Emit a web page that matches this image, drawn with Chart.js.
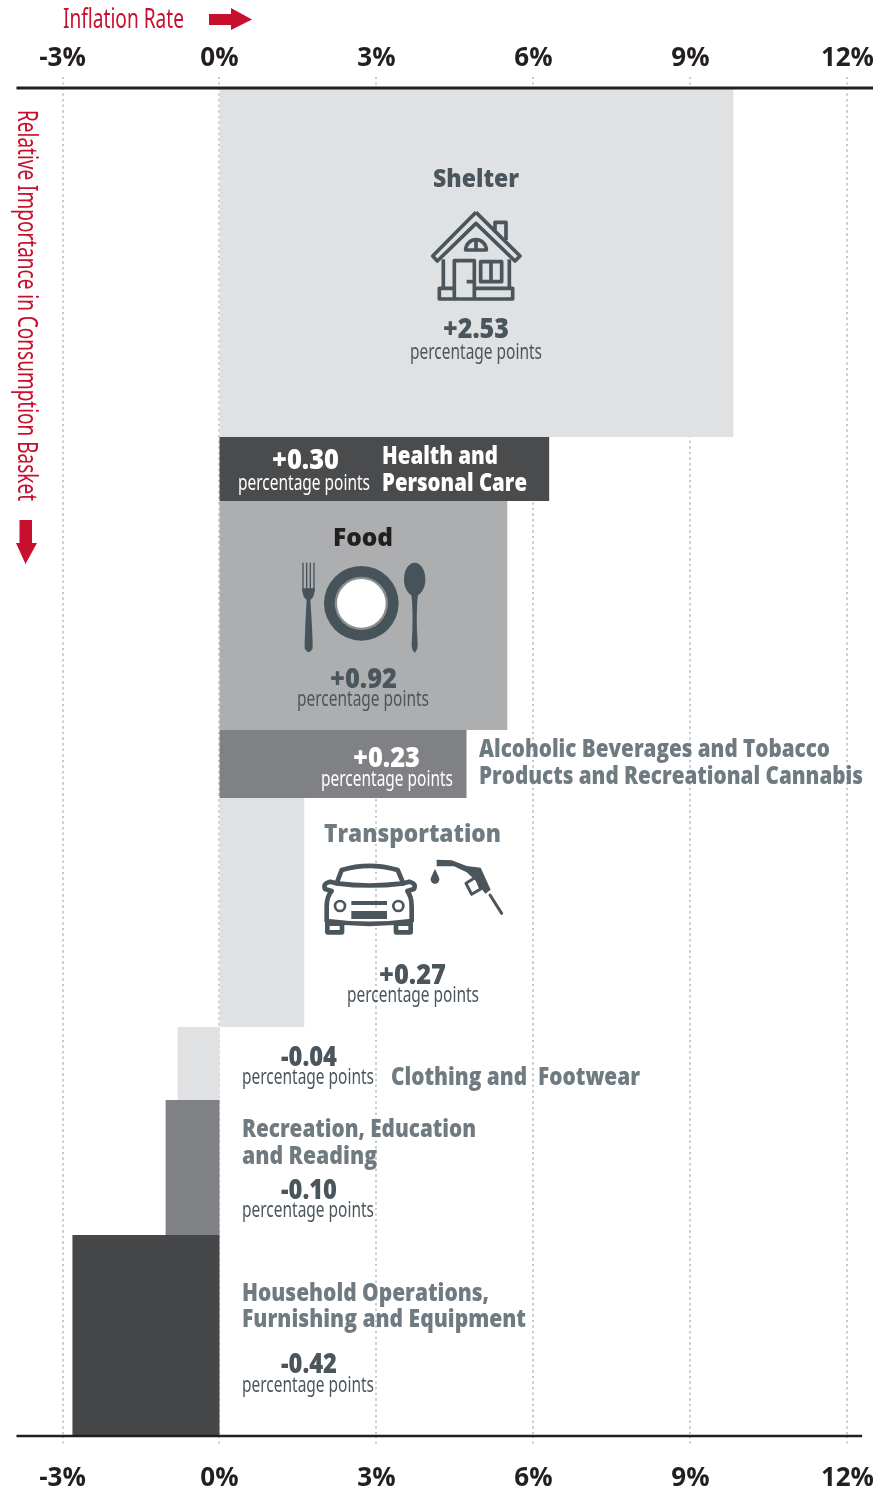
<!DOCTYPE html>
<html>
<head>
<meta charset="utf-8">
<title>Inflation contributions</title>
<script src="https://cdn.jsdelivr.net/npm/chart.js@4"></script>
<style>
  html, body { margin: 0; padding: 0; background: #fff; }
  canvas { display: block; }
</style>
</head>
<body>
<canvas id="basketChart" width="873" height="1487"></canvas>
<script>
// values
var categories = ["Shelter", "Health and Personal Care", "Food", "Alcoholic Beverages and Tobacco Products and Recreational Cannabis", "Transportation", "Clothing and Footwear", "Recreation, Education and Reading", "Household Operations, Furnishing and Equipment"];
var inflationRates = [9.82, 6.3, 5.5, 4.72, 1.62, -0.8, -1.03, -2.81];
var basketWeights = [25.89, 4.75, 16.99, 5.04, 16.99, 5.42, 10.01, 15.1];
var contributions = ["+2.53", "+0.30", "+0.92", "+0.23", "+0.27", "-0.04", "-0.10", "-0.42"];
var barColors = ["#e0e1e3", "#4a4b4d", "#adaeb0", "#808184", "#e0e1e3", "#e0e1e3", "#808184", "#464749"];
var tickValues = [-3, 0, 3, 6, 9, 12];

var RED = "#c8102e";
var SLATE = "#4a555c";
var MUTED = "#6f7b81";
var BOLD = "800 24px 'Open Sans'";
var VALUE = "800 28px 'Open Sans'";
var SMALL = "22px 'Noto Sans'";

// text, left, right, middle y, font, colour
var labels = [
    ["Inflation Rate", 63, 184, 20, "28px 'Noto Sans'", RED],
    ["Shelter", 433, 519, 180, BOLD, SLATE],
    [contributions[0], 443, 509, 330, VALUE, SLATE],
    ["percentage points", 410, 542, 353, SMALL, SLATE],
    [contributions[1], 272, 339, 461, VALUE, "#fff"],
    ["percentage points", 238, 370, 484, SMALL, "#fff"],
    ["Health and", 382, 498, 457, BOLD, "#fff"],
    ["Personal Care", 382, 527, 484, BOLD, "#fff"],
    ["Food", 333, 393, 539, BOLD, "#231f20"],
    [contributions[2], 330, 397, 680, VALUE, SLATE],
    ["percentage points", 297, 429, 700, SMALL, SLATE],
    [contributions[3], 353, 420, 759, VALUE, "#fff"],
    ["percentage points", 321, 453, 780, SMALL, "#fff"],
    ["Alcoholic Beverages and Tobacco", 479, 830, 750, BOLD, MUTED],
    ["Products and Recreational Cannabis", 479, 863, 777, BOLD, MUTED],
    ["Transportation", 324, 501, 835, BOLD, MUTED],
    [contributions[4], 379, 446, 976, VALUE, SLATE],
    ["percentage points", 347, 479, 996, SMALL, SLATE],
    [contributions[5], 281, 337, 1058, VALUE, SLATE],
    ["percentage points", 242, 374, 1078, SMALL, SLATE],
    ["Clothing and  Footwear", 391, 640, 1078, BOLD, MUTED],
    ["Recreation, Education", 242, 476, 1130, BOLD, MUTED],
    ["and Reading", 242, 377, 1157, BOLD, MUTED],
    [contributions[6], 281, 337, 1191, VALUE, SLATE],
    ["percentage points", 242, 374, 1211, SMALL, SLATE],
    ["Household Operations,", 242, 489, 1294, BOLD, MUTED],
    ["Furnishing and Equipment", 242, 526, 1320, BOLD, MUTED],
    [contributions[7], 281, 337, 1365, VALUE, SLATE],
    ["percentage points", 242, 374, 1386, SMALL, SLATE]
];

function fitText(ctx, text, x0, x1, y, font, color) {
    ctx.save();
    ctx.font = font;
    ctx.fillStyle = color;
    ctx.textAlign = "left";
    ctx.textBaseline = "middle";
    var w = ctx.measureText(text).width;
    ctx.translate(x0, y);
    ctx.scale((x1 - x0) / w, 1);
    ctx.fillText(text, 0, 0);
    ctx.restore();
}

function poly(ctx, pts, fill) {
    ctx.beginPath();
    for (var i = 0; i < pts.length; i++) {
        if (i == 0) ctx.moveTo(pts[i][0], pts[i][1]);
        else ctx.lineTo(pts[i][0], pts[i][1]);
    }
    if (fill) { ctx.closePath(); ctx.fill(); } else { ctx.stroke(); }
}

function drawArrows(ctx) {
    ctx.fillStyle = RED;
    poly(ctx, [[209, 14], [231, 14], [231, 8], [252, 19.5], [231, 30], [231, 25], [209, 25]], true);
    poly(ctx, [[19.5, 520], [32, 520], [32, 543], [37, 543], [25.5, 564], [16, 543], [19.5, 543]], true);
}

// icons are traced at 3x, so each one is drawn scaled down from its crop
function drawHouse(ctx) {
    ctx.save();
    ctx.translate(410, 160);
    ctx.scale(1 / 3, 1 / 3);
    ctx.strokeStyle = SLATE;
    ctx.lineWidth = 11;
    ctx.lineJoin = "round";
    poly(ctx, [[198, 157], [330, 288], [315, 303], [198, 190], [82, 303], [68, 288], [198, 157]]);
    poly(ctx, [[255, 210], [255, 187], [288, 187], [288, 240]]);
    poly(ctx, [[100, 298], [100, 385]]);
    poly(ctx, [[298, 298], [298, 385]]);
    poly(ctx, [[133, 385], [88, 385], [88, 417], [308, 417], [308, 385], [193, 385]]);
    poly(ctx, [[133, 417], [133, 302], [193, 302], [193, 417]]);
    poly(ctx, [[170, 365], [193, 365]]);
    ctx.strokeRect(212, 305, 63, 60);
    poly(ctx, [[243, 305], [243, 365]]);
    ctx.beginPath();
    ctx.arc(198, 270, 31, Math.PI, 0);
    ctx.closePath();
    ctx.stroke();
    poly(ctx, [[198, 240], [198, 270]]);
    ctx.restore();
}

function drawFood(ctx) {
    ctx.save();
    ctx.translate(280, 520);
    ctx.scale(1 / 3, 1 / 3);
    ctx.fillStyle = "#47535b";
    ctx.beginPath();
    ctx.arc(244, 250, 112, 0, Math.PI * 2);
    ctx.fill();
    ctx.fillStyle = "#8c8e90";
    ctx.beginPath();
    ctx.arc(244, 250, 80, 0, Math.PI * 2);
    ctx.fill();
    ctx.fillStyle = "#fff";
    ctx.beginPath();
    ctx.arc(244, 250, 73, 0, Math.PI * 2);
    ctx.fill();

    ctx.fillStyle = "#47535b";
    ctx.strokeStyle = "#47535b";
    ctx.lineWidth = 4;
    var tines = [69, 80, 91, 102];
    for (var i = 0; i < tines.length; i++) {
        poly(ctx, [[tines[i], 128], [tines[i], 215]]);
    }
    ctx.beginPath();
    ctx.moveTo(67, 205);
    ctx.lineTo(104, 205);
    ctx.quadraticCurveTo(104, 232, 91, 240);
    ctx.quadraticCurveTo(98, 340, 98, 385);
    ctx.quadraticCurveTo(86, 408, 74, 385);
    ctx.quadraticCurveTo(74, 340, 80, 240);
    ctx.quadraticCurveTo(67, 232, 67, 205);
    ctx.fill();

    ctx.beginPath();
    ctx.ellipse(404, 178, 32, 50, 0, 0, Math.PI * 2);
    ctx.fill();
    ctx.beginPath();
    ctx.moveTo(394, 220);
    ctx.lineTo(414, 220);
    ctx.quadraticCurveTo(407, 290, 413, 370);
    ctx.quadraticCurveTo(414, 390, 404, 398);
    ctx.quadraticCurveTo(394, 390, 395, 370);
    ctx.quadraticCurveTo(401, 290, 394, 220);
    ctx.fill();
    ctx.restore();
}

function drawCar(ctx) {
    ctx.save();
    ctx.translate(310, 815);
    ctx.scale(1 / 3, 1 / 3);
    ctx.strokeStyle = SLATE;
    ctx.fillStyle = SLATE;
    ctx.lineJoin = "round";
    ctx.lineCap = "round";
    ctx.lineWidth = 14;
    // roof and windscreen
    ctx.beginPath();
    ctx.moveTo(80, 205);
    ctx.lineTo(95, 165);
    ctx.quadraticCurveTo(178, 140, 263, 165);
    ctx.lineTo(280, 205);
    ctx.quadraticCurveTo(178, 218, 80, 205);
    ctx.stroke();
    // body
    ctx.beginPath();
    ctx.moveTo(80, 205);
    ctx.lineTo(60, 200);
    ctx.quadraticCurveTo(38, 205, 45, 222);
    ctx.lineTo(65, 228);
    ctx.quadraticCurveTo(50, 245, 50, 275);
    ctx.lineTo(50, 318);
    ctx.quadraticCurveTo(178, 335, 305, 318);
    ctx.lineTo(305, 275);
    ctx.quadraticCurveTo(305, 245, 292, 228);
    ctx.lineTo(312, 222);
    ctx.quadraticCurveTo(320, 205, 298, 200);
    ctx.lineTo(280, 205);
    ctx.stroke();
    // wheels
    ctx.strokeRect(52, 326, 44, 26);
    ctx.strokeRect(258, 326, 44, 26);
    // lamps
    ctx.lineWidth = 8;
    ctx.beginPath();
    ctx.arc(90, 273, 15, 0, Math.PI * 2);
    ctx.stroke();
    ctx.beginPath();
    ctx.arc(265, 273, 15, 0, Math.PI * 2);
    ctx.stroke();
    // grille
    ctx.fillRect(124, 258, 107, 12);
    ctx.fillRect(124, 288, 107, 24);

    // drop
    ctx.beginPath();
    ctx.moveTo(375, 162);
    ctx.quadraticCurveTo(388, 188, 388, 193);
    ctx.arc(375, 193, 13, 0, Math.PI);
    ctx.quadraticCurveTo(362, 188, 375, 162);
    ctx.fill();
    // nozzle
    poly(ctx, [[380, 134], [425, 136], [470, 153], [512, 158], [542, 224], [526, 236], [495, 195], [470, 172], [432, 154], [380, 154]], true);
    ctx.lineWidth = 9;
    poly(ctx, [[468, 205], [498, 186], [512, 222], [485, 238], [468, 205]]);
    poly(ctx, [[540, 240], [575, 295]]);
    ctx.restore();
}

var basketPlugin = {
    id: "basketPlugin",
    afterDraw: function (chart) {
        var ctx = chart.ctx;
        drawArrows(ctx);
        drawHouse(ctx);
        drawFood(ctx);
        drawCar(ctx);
        for (var i = 0; i < labels.length; i++) {
            var l = labels[i];
            fitText(ctx, l[0], l[1], l[2], l[3], l[4], l[5]);
        }
        // vertical axis title runs down the page
        ctx.save();
        ctx.translate(26, 110);
        ctx.rotate(Math.PI / 2);
        fitText(ctx, "Relative Importance in Consumption Basket", 0, 391, 0, "28px 'Noto Sans'", RED);
        ctx.restore();
    }
};

// one closed rectangle per category, stacked down the basket
var datasets = [];
datasets.push({
    data: [{ x: -3.88, y: 0 }, { x: 12.5, y: 0 }],
    borderColor: "#231f20", borderWidth: 3, pointRadius: 0, showLine: true, clip: false, order: 0
});
datasets.push({
    data: [{ x: -3.88, y: 100 }, { x: 12.28, y: 100 }],
    borderColor: "#231f20", borderWidth: 2.5, pointRadius: 0, showLine: true, clip: false, order: 0
});
var running = 0;
for (var i = 0; i < categories.length; i++) {
    var next = running + basketWeights[i];
    datasets.push({
        label: categories[i],
        data: [
            { x: 0, y: running },
            { x: inflationRates[i], y: running },
            { x: inflationRates[i], y: next },
            { x: 0, y: next },
            { x: 0, y: running }
        ],
        backgroundColor: barColors[i],
        borderWidth: 0,
        pointRadius: 0,
        showLine: true,
        fill: "shape",
        tension: 0,
        clip: false,
        order: 1
    });
    running = next;
}

function percentAxis(position, boxHeight, labelPadding) {
    return {
        type: "linear",
        position: position,
        min: -219.5 / 52.33,
        max: 653.5 / 52.33,
        afterBuildTicks: function (scale) {
            scale.ticks = tickValues.map(function (v) { return { value: v }; });
        },
        afterFit: function (scale) {
            scale.height = boxHeight;
            scale.paddingLeft = 0;
            scale.paddingRight = 0;
        },
        grid: {
            color: "#c6ccd2",
            lineWidth: 2,
            tickLength: 11,
            tickColor: "#c6ccd2",
            tickBorderDash: [2, 3.6],
            drawTicks: true
        },
        border: { display: false, dash: [2, 3.6] },
        ticks: {
            autoSkip: false,
            maxRotation: 0,
            padding: labelPadding,
            color: "#231f20",
            font: { size: 26, weight: "bold", family: "'Open Sans'" },
            callback: function (value) { return value + "%"; }
        }
    };
}

new Chart(document.getElementById("basketChart"), {
    type: "scatter",
    data: { datasets: datasets },
    plugins: [basketPlugin],
    options: {
        responsive: false,
        animation: false,
        layout: { padding: 0 },
        plugins: { legend: { display: false }, tooltip: { enabled: false } },
        scales: {
            x: percentAxis("bottom", 51, 16),
            x2: percentAxis("top", 88, 3),
            y: { type: "linear", reverse: true, min: 0, max: 100, display: false }
        }
    }
});
</script>
</body>
</html>
